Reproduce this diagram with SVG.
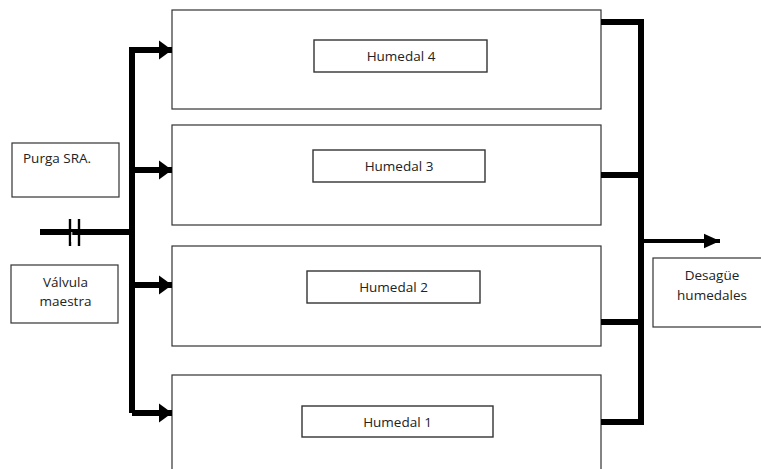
<svg xmlns="http://www.w3.org/2000/svg" width="761" height="469" viewBox="0 0 761 469">
<style>
.box{fill:#fff;stroke:#333;stroke-width:1.2}
.lbl{fill:#fff;stroke:#333;stroke-width:1.4}
.t{font-family:"Open Sans","Liberation Sans",sans-serif;font-size:13.5px;fill:#222;text-anchor:middle}
.pipe{fill:none;stroke:#000;stroke-width:6;stroke-linejoin:miter}
.thin{fill:none;stroke:#000;stroke-width:4}
</style>
<defs>
<marker id="ah" markerWidth="2.2" markerHeight="3.2" refX="2.2" refY="1.6" orient="auto" markerUnits="strokeWidth">
<path d="M0,0 L2.2,1.6 L0,3.2 z" fill="#000"/>
</marker>
<marker id="ah2" markerWidth="4" markerHeight="4" refX="4" refY="2" orient="auto" markerUnits="strokeWidth">
<path d="M0,0.2 L4,2 L0,3.8 z" fill="#000"/>
</marker>
</defs>
<g id="humedal4"><rect class="box" x="172" y="10" width="429" height="99"/><rect class="lbl" x="314" y="40" width="173" height="32"/><text class="t" x="401" y="61">Humedal 4</text></g>
<g id="humedal3"><rect class="box" x="172" y="125" width="429" height="100"/><rect class="lbl" x="313" y="150" width="172" height="32"/><text class="t" x="399" y="171">Humedal 3</text></g>
<g id="humedal2"><rect class="box" x="172" y="246" width="429" height="100"/><rect class="lbl" x="307" y="271" width="173" height="32"/><text class="t" x="393.5" y="292">Humedal 2</text></g>
<g id="humedal1"><rect class="box" x="172" y="375" width="429" height="100"/><rect class="lbl" x="302" y="406" width="191" height="31"/><text class="t" x="397.5" y="427">Humedal 1</text></g>
<g id="purga"><rect class="box" x="12" y="143" width="107" height="54"/><text class="t" x="23" y="163" style="text-anchor:start">Purga SRA.</text></g>
<g id="valvula"><rect class="box" x="11" y="265" width="107" height="58"/><text class="t" x="65.5" y="287">Válvula</text><text class="t" x="65.5" y="306">maestra</text></g>
<g id="desague"><rect class="box" x="653" y="258" width="110" height="69"/><text class="t" x="712" y="280">Desagüe</text><text class="t" x="712" y="300">humedales</text></g>
<g id="connectors">
<path class="pipe" d="M40,232 H132"/>
<path d="M70,219 V246 M79,219 V246" stroke="#000" stroke-width="2.4"/>
<path d="M71.8,232 V242" stroke="#fff" stroke-width="1"/>
<path class="pipe" d="M132,413 V50 H172" marker-end="url(#ah)"/>
<path class="pipe" d="M132,170 H172" marker-end="url(#ah)"/>
<path class="pipe" d="M132,285 H172" marker-end="url(#ah)"/>
<path class="pipe" d="M132,413 H172" marker-end="url(#ah)"/>
<path class="pipe" d="M601,22 H641 V422 H601"/>
<path class="pipe" d="M601,175 H641"/>
<path class="pipe" d="M601,322 H641"/>
<path class="thin" d="M641,241 H720" marker-end="url(#ah2)"/>
</g>
</svg>
